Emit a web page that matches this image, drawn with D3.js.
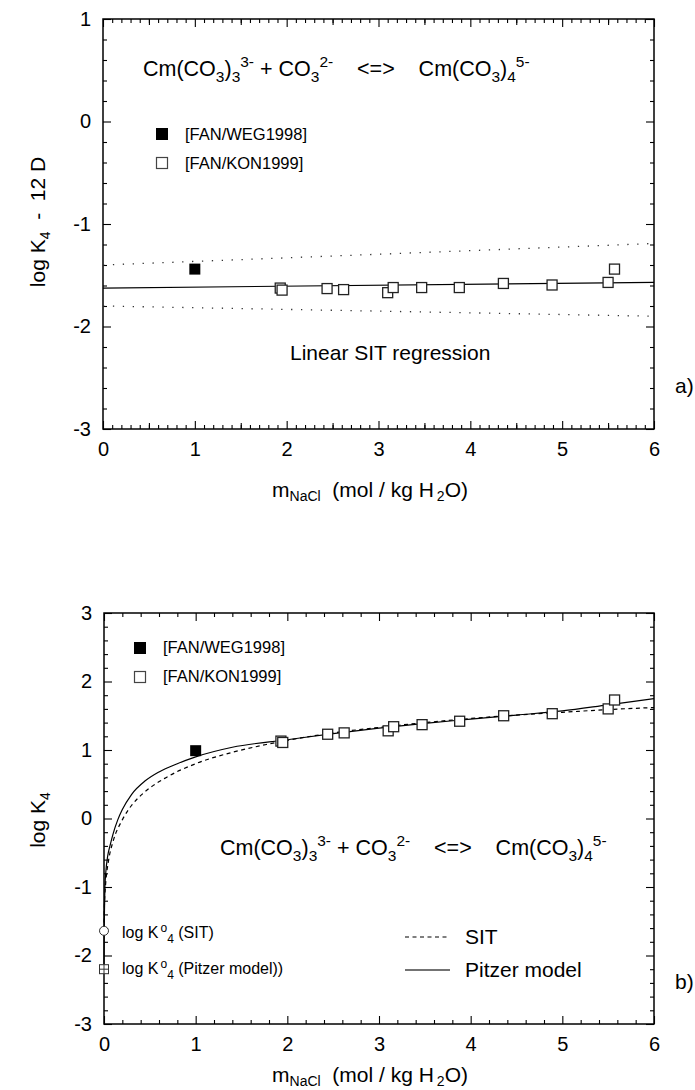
<!DOCTYPE html>
<html>
<head>
<meta charset="utf-8">
<script src="https://cdn.jsdelivr.net/npm/d3@7"></script>
<style>
  html, body { margin: 0; padding: 0; background: #fff; }
  svg { display: block; }
  text { font-family: "Liberation Sans", Arial, Helvetica, sans-serif; fill: #000; white-space: pre; }
</style>
</head>
<body>
<svg id="chart" width="695" height="1090"></svg>
<script>
// ---- data -------------------------------------------------------------
// NaCl molality of the [FAN/KON1999] measurements
const konM = [1.93, 1.95, 2.44, 2.62, 3.10, 3.16, 3.47, 3.88, 4.36, 4.89, 5.50, 5.57];
// log K4 - 12 D for those points (panel a)
const konSitY = [-1.625, -1.645, -1.63, -1.64, -1.67, -1.62, -1.62, -1.62, -1.58, -1.595, -1.57, -1.44];
// log K4 for those points (panel b)
const konLogK = [1.13, 1.11, 1.23, 1.25, 1.28, 1.34, 1.37, 1.42, 1.50, 1.53, 1.60, 1.73];

// [FAN/WEG1998]
const wegM = [1.0];
const wegSitY = [-1.44];
const wegLogK = [0.99];

// linear SIT regression and its bounds (panel a)
const regM = [0, 6];
const regY = [-1.625, -1.57];
const upperY = [-1.40, -1.19];
const lowerY = [-1.80, -1.90];

// model curves (panel b)
const sitM    = [0, 0.005, 0.01, 0.02, 0.05, 0.1, 0.2, 0.3, 0.43, 0.68, 1.0, 1.41, 1.77, 2.0, 2.5, 3.0, 3.5, 4.0, 4.5, 5.0, 5.5, 6.0];
const sitLogK = [-1.63, -1.24, -1.10, -0.92, -0.61, -0.33, -0.02, 0.19, 0.37, 0.60, 0.80, 0.97, 1.08, 1.14, 1.25, 1.33, 1.40, 1.46, 1.51, 1.55, 1.59, 1.62];
const pitM    = [0, 0.002, 0.005, 0.01, 0.02, 0.04, 0.065, 0.1, 0.15, 0.2, 0.3, 0.45, 0.6, 0.8, 1.0, 1.4, 2.0, 2.5, 3.0, 3.5, 4.0, 4.5, 5.0, 5.5, 6.0];
const pitLogK = [-2.2, -1.7, -1.35, -1.0, -0.78, -0.55, -0.4, -0.22, -0.02, 0.13, 0.35, 0.55, 0.68, 0.80, 0.90, 1.04, 1.15, 1.24, 1.32, 1.39, 1.45, 1.51, 1.57, 1.66, 1.75];

// standard-state constants at m = 0
const logK0Sit = -1.64;
const logK0Pitzer = -2.2;

// ticks
const xTicks = [0, 1, 2, 3, 4, 5, 6];
const topYTicks = [-3, -2, -1, 0, 1];
const botYTicks = [-3, -2, -1, 0, 1, 2, 3];

// ---- drawing ----------------------------------------------------------
const svg = d3.select("#chart");
const FS_TICK = 20;
const FS_TITLE = 21;
const plainInt = d => String(d);   // plain hyphen for negative numbers

function range(a, b, step) {
  const out = [];
  const n = Math.round((b - a) / step);
  for (let i = 0; i <= n; i++) out.push(+(a + i * step).toFixed(4));
  return out;
}

function panel(cfg) {
  const g = svg.append("g");
  const x = d3.scaleLinear().domain([0, 6]).range([cfg.left, cfg.right]);
  const y = d3.scaleLinear().domain(cfg.yDomain).range([cfg.bottom, cfg.top]);

  const xMinor = range(0, 6, cfg.xMinorStep).filter(v => !xTicks.includes(v));
  const yMinor = range(cfg.yDomain[0], cfg.yDomain[1], 0.2).filter(v => !cfg.yTicks.includes(v));
  const xHalf = cfg.xHalf ? range(0.5, 5.5, 1) : [];

  // bottom axis with labels, top mirror without
  g.append("g").attr("transform", `translate(0,${cfg.bottom})`)
    .call(d3.axisBottom(x).tickValues(xTicks).tickSize(-8).tickSizeOuter(0).tickPadding(13).tickFormat(plainInt));
  g.append("g").attr("transform", `translate(0,${cfg.bottom})`)
    .call(d3.axisBottom(x).tickValues(xMinor).tickSize(-4).tickSizeOuter(0).tickFormat(""));
  g.append("g").attr("transform", `translate(0,${cfg.bottom})`)
    .call(d3.axisBottom(x).tickValues(xHalf).tickSize(-6).tickSizeOuter(0).tickFormat(""));
  g.append("g").attr("transform", `translate(0,${cfg.top})`)
    .call(d3.axisTop(x).tickValues(xTicks).tickSize(-8).tickSizeOuter(0).tickFormat(""));
  g.append("g").attr("transform", `translate(0,${cfg.top})`)
    .call(d3.axisTop(x).tickValues(xMinor).tickSize(-4).tickSizeOuter(0).tickFormat(""));
  g.append("g").attr("transform", `translate(0,${cfg.top})`)
    .call(d3.axisTop(x).tickValues(xHalf).tickSize(-6).tickSizeOuter(0).tickFormat(""));
  // left axis with labels, right mirror without
  g.append("g").attr("transform", `translate(${cfg.left},0)`)
    .call(d3.axisLeft(y).tickValues(cfg.yTicks).tickSize(-8).tickSizeOuter(0).tickPadding(12).tickFormat(plainInt));
  g.append("g").attr("transform", `translate(${cfg.left},0)`)
    .call(d3.axisLeft(y).tickValues(yMinor).tickSize(-4).tickSizeOuter(0).tickFormat(""));
  g.append("g").attr("transform", `translate(${cfg.right},0)`)
    .call(d3.axisRight(y).tickValues(cfg.yTicks).tickSize(-8).tickSizeOuter(0).tickFormat(""));
  g.append("g").attr("transform", `translate(${cfg.right},0)`)
    .call(d3.axisRight(y).tickValues(yMinor).tickSize(-4).tickSizeOuter(0).tickFormat(""));

  g.selectAll(".domain").remove();
  g.selectAll(".tick line").attr("stroke", "#000").attr("stroke-width", 1.1);
  g.selectAll(".tick text").attr("font-size", FS_TICK).attr("font-family", null).attr("fill", "#000");

  // frame
  g.append("rect")
    .attr("x", cfg.left).attr("y", cfg.top)
    .attr("width", cfg.right - cfg.left).attr("height", cfg.bottom - cfg.top)
    .attr("fill", "none").attr("stroke", "#000").attr("stroke-width", 1.5);

  // x-axis title
  const xt = g.append("text").attr("x", 370).attr("y", cfg.titleY)
    .attr("text-anchor", "middle").attr("font-size", FS_TITLE);
  xt.append("tspan").text("m");
  xt.append("tspan").attr("font-size", 14).attr("dy", 4).text("NaCl");
  xt.append("tspan").attr("dy", -4).text("  (mol / kg H");
  xt.append("tspan").attr("font-size", 14).attr("dy", 4).attr("dx", 3).text("2");
  xt.append("tspan").attr("dy", -4).text("O)");

  return { g, x, y };
}

function squares(g, x, y, xs, ys, size, fill) {
  g.append("g").selectAll("rect").data(xs).join("rect")
    .attr("x", (d) => x(d) - size / 2)
    .attr("y", (d, i) => y(ys[i]) - size / 2)
    .attr("width", size).attr("height", size)
    .attr("fill", fill).attr("stroke", fill === "#000" ? "none" : "#222")
    .attr("stroke-width", 1.3);
}

function legendSquare(g, cx, cy, size, fill) {
  g.append("rect").attr("x", cx - size / 2).attr("y", cy - size / 2)
    .attr("width", size).attr("height", size)
    .attr("fill", fill).attr("stroke", fill === "#000" ? "none" : "#444").attr("stroke-width", 1.2);
}

function reaction(g, x0, y0, fs) {
  const sub = fs * 0.72, d = fs * 0.3, u = fs * 0.42;
  const t = g.append("text").attr("x", x0).attr("y", y0).attr("font-size", fs);
  t.append("tspan").text("Cm(CO");
  t.append("tspan").attr("font-size", sub).attr("dy", d).text("3");
  t.append("tspan").attr("dy", -d).text(")");
  t.append("tspan").attr("font-size", sub).attr("dy", d).text("3");
  t.append("tspan").attr("font-size", sub).attr("dy", -d - u).text("3-");
  t.append("tspan").attr("dy", u).text(" + CO");
  t.append("tspan").attr("font-size", sub).attr("dy", d).text("3");
  t.append("tspan").attr("font-size", sub).attr("dy", -d - u).text("2-");
  t.append("tspan").attr("dy", u).text("    <=>    Cm(CO");
  t.append("tspan").attr("font-size", sub).attr("dy", d).text("3");
  t.append("tspan").attr("dy", -d).text(")");
  t.append("tspan").attr("font-size", sub).attr("dy", d).text("4");
  t.append("tspan").attr("font-size", sub).attr("dy", -d - u).text("5-");
}

// ===== panel a =====
const A = panel({ left: 103, right: 654, top: 19, bottom: 429, yDomain: [-3, 1], yTicks: topYTicks,
                  xMinorStep: 0.1, xHalf: true, titleY: 497 });

const lineA = d3.line().x(d => A.x(d[0])).y(d => A.y(d[1]));
A.g.append("path").datum(regM.map((m, i) => [m, upperY[i]])).attr("d", lineA)
  .attr("fill", "none").attr("stroke", "#333").attr("stroke-width", 1.3).attr("stroke-dasharray", "1.3,8.6");
A.g.append("path").datum(regM.map((m, i) => [m, lowerY[i]])).attr("d", lineA)
  .attr("fill", "none").attr("stroke", "#333").attr("stroke-width", 1.3).attr("stroke-dasharray", "1.3,8.6");
A.g.append("path").datum(regM.map((m, i) => [m, regY[i]])).attr("d", lineA)
  .attr("fill", "none").attr("stroke", "#000").attr("stroke-width", 1.2);

squares(A.g, A.x, A.y, konM, konSitY, 10, "#fff");
squares(A.g, A.x, A.y, wegM, wegSitY, 11, "#000");

reaction(A.g, 143, 76, 21.5);

legendSquare(A.g, 162, 134, 12, "#000");
legendSquare(A.g, 162, 163, 11, "#fff");
A.g.append("text").attr("x", 185).attr("y", 140).attr("font-size", 16.5).text("[FAN/WEG1998]");
A.g.append("text").attr("x", 185).attr("y", 169).attr("font-size", 16.5).text("[FAN/KON1999]");

A.g.append("text").attr("x", 290).attr("y", 360).attr("font-size", 21).text("Linear SIT regression");
A.g.append("text").attr("x", 675).attr("y", 393).attr("font-size", 21).text("a)");

// y title a
const ya = A.g.append("text").attr("transform", "translate(45,222) rotate(-90)")
  .attr("text-anchor", "middle").attr("font-size", FS_TITLE);
ya.append("tspan").text("log K");
ya.append("tspan").attr("font-size", 14).attr("dy", 5).text("4");
ya.append("tspan").attr("dy", -5).text("  -  12 D");

// ===== panel b =====
const B = panel({ left: 104, right: 654, top: 613, bottom: 1024, yDomain: [-3, 3], yTicks: botYTicks,
                  xMinorStep: 0.2, xHalf: false, titleY: 1082 });

const lineB = d3.line().x(d => B.x(d[0])).y(d => B.y(d[1])).curve(d3.curveMonotoneX);
B.g.append("path").datum(sitM.map((m, i) => [m, sitLogK[i]])).attr("d", lineB)
  .attr("fill", "none").attr("stroke", "#000").attr("stroke-width", 1.2).attr("stroke-dasharray", "4,3.5");
B.g.append("path").datum(pitM.map((m, i) => [m, pitLogK[i]])).attr("d", lineB)
  .attr("fill", "none").attr("stroke", "#000").attr("stroke-width", 1.2);

squares(B.g, B.x, B.y, konM, konLogK, 10, "#fff");
squares(B.g, B.x, B.y, wegM, wegLogK, 11, "#000");

// log K°4 markers on the y axis
B.g.append("circle").attr("cx", B.x(0)).attr("cy", B.y(logK0Sit)).attr("r", 4.5)
  .attr("fill", "#fff").attr("stroke", "#333").attr("stroke-width", 1);
const ps = 9, px = B.x(0), py = B.y(logK0Pitzer);
B.g.append("rect").attr("x", px - ps / 2).attr("y", py - ps / 2).attr("width", ps).attr("height", ps)
  .attr("fill", "#fff").attr("stroke", "#333").attr("stroke-width", 1);
B.g.append("line").attr("x1", px - ps / 2).attr("x2", px + ps / 2).attr("y1", py).attr("y2", py).attr("stroke", "#333");
B.g.append("line").attr("x1", px).attr("x2", px).attr("y1", py - ps / 2).attr("y2", py + ps / 2).attr("stroke", "#333");

function k0Label(x0, y0, rest) {
  const t = B.g.append("text").attr("x", x0).attr("y", y0).attr("font-size", 16);
  t.append("tspan").text("log K");
  t.append("tspan").attr("font-size", 12).attr("dy", -6).attr("dx", 2).text("o");
  t.append("tspan").attr("font-size", 12).attr("dy", 11).text("4");
  t.append("tspan").attr("dy", -5).text(rest);
}
k0Label(122, 938, " (SIT)");
k0Label(122, 974, " (Pitzer model))");

reaction(B.g, 220, 855, 21.5);

legendSquare(B.g, 140, 648, 12, "#000");
legendSquare(B.g, 140, 677, 11, "#fff");
B.g.append("text").attr("x", 163).attr("y", 653).attr("font-size", 16.5).text("[FAN/WEG1998]");
B.g.append("text").attr("x", 163).attr("y", 682).attr("font-size", 16.5).text("[FAN/KON1999]");

B.g.append("line").attr("x1", 405).attr("x2", 450).attr("y1", 937).attr("y2", 937)
  .attr("stroke", "#000").attr("stroke-width", 1.2).attr("stroke-dasharray", "4,3.5");
B.g.append("line").attr("x1", 405).attr("x2", 450).attr("y1", 970).attr("y2", 970)
  .attr("stroke", "#444").attr("stroke-width", 1.4);
B.g.append("text").attr("x", 465).attr("y", 944).attr("font-size", 21).text("SIT");
B.g.append("text").attr("x", 465).attr("y", 977).attr("font-size", 21).text("Pitzer model");
B.g.append("text").attr("x", 675).attr("y", 989).attr("font-size", 21).text("b)");

// y title b
const yb = B.g.append("text").attr("transform", "translate(45,820) rotate(-90)")
  .attr("text-anchor", "middle").attr("font-size", FS_TITLE);
yb.append("tspan").text("log K");
yb.append("tspan").attr("font-size", 14).attr("dy", 5).text("4");
</script>
</body>
</html>
